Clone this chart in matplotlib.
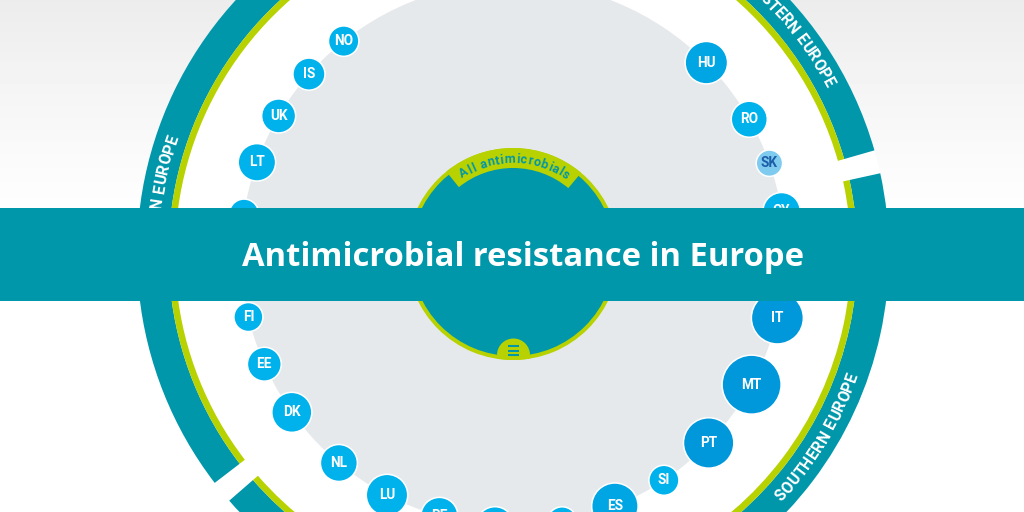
import numpy as np
import matplotlib.pyplot as plt
from matplotlib.patches import Rectangle, Circle
from matplotlib.font_manager import FontProperties, findfont
from matplotlib.ft2font import FT2Font

# ---- data ----
countries = ["SK", "RO", "HU",
             "NO", "IS", "UK", "LT", "LV", "SE", "FI", "EE", "DK",
             "NL", "LU", "BE", "FR",
             "HR", "ES", "SI", "PT", "MT", "IT", "EL", "CY"]
# position of each country around the ring (degrees, counter-clockwise from east)
angles = [19.5, 29.7, 44.7,
          128.5, 138.6, 149.5, 160.3, 171.5, 182.5, 193.4, 203.9, 215.6,
          230.2, 242.4, 254.3, 266.2,
          280.4, 292.0, 303.7, 316.0, 331.3, 346.4, 357.8, 369.05]
values = [7.7, 14.8, 20.8,
          10.4, 11.6, 13.1, 16.0, 9.7, 11.1, 9.4, 13.0, 18.4,
          15.6, 19.8, 15.6, 16.0,
          9.7, 25.0, 10.1, 29.6, 41.0, 31.6, 36.0, 16.0]

regions = ["EASTERN EUROPE", "NORTHERN EUROPE", "WESTERN EUROPE", "SOUTHERN EUROPE"]
region_span = [(16.0, 88.0), (91.5, 217.5), (221.0, 270.0), (273.5, 372.4)]
region_label_at = [38.5, 172.5, 250.0, 329.0]

title = "Antimicrobial resistance in Europe"
centre_label = "All antimicrobials"

# ---- style ----
W, H, DPI = 1024, 512, 100
CX, CY = 513, 254
RMAX = 400
TEAL = "#0097AA"
LIME = "#B7D200"
GRAY = "#E6E9EC"
R_BUBBLE = 272
BANNER = (208, 301)


def bubble_radius(v):
    return 4.5 * np.sqrt(v)


def bubble_color(v):
    if v < 8:
        return "#7FCBF0"
    if v < 20:
        return "#00B2EC"
    if v < 28:
        return "#00A5E4"
    return "#0098DB"


def arc_text(ax, text, theta_c, r_mid, fp, color, outward=True, track=0.0):
    font = FT2Font(findfont(fp))
    font.set_size(fp.get_size_in_points(), DPI)
    advs = [font.load_char(ord(c)).linearHoriAdvance / 65536 + track for c in text]
    total = sum(advs) - track
    span = total / r_mid
    th_c = np.deg2rad(theta_c)
    cap = 0.71 * fp.get_size_in_points() * DPI / 72
    if outward:
        start, dirn, rot, r_base = th_c + span / 2, -1, -90, r_mid - cap / 2
    else:
        start, dirn, rot, r_base = th_c - span / 2, 1, 90, r_mid + cap / 2
    pos = 0
    for c, a in zip(text, advs):
        th = start + dirn * (pos + (a - track) / 2) / r_mid
        if c != " ":
            ax.text(th, r_base, c, rotation=np.rad2deg(th) + rot, rotation_mode="anchor",
                    ha="center", va="baseline", fontproperties=fp, color=color, zorder=8)
        pos += a


fig = plt.figure(figsize=(W / DPI, H / DPI), dpi=DPI)

# background with a soft grey fade at the top
bg = fig.add_axes([0, 0, 1, 1], zorder=0)
bg.set_xlim(0, W)
bg.set_ylim(H, 0)
bg.axis("off")
yy = np.linspace(0, H, H)[:, None]
shade = 1 - 0.075 * np.clip(1 - yy / 240, 0, 1) ** 1.3
bg.imshow(np.repeat(shade, 4, axis=1), cmap="gray", vmin=0, vmax=1,
          extent=[0, W, H, 0], aspect="auto")

# polar chart, 1 unit of r = 1 pixel
ax = fig.add_axes([(CX - RMAX) / W, (H - CY - RMAX) / H, 2 * RMAX / W, 2 * RMAX / H],
                  projection="polar", zorder=1)
ax.set_theta_zero_location("E")
ax.set_ylim(0, RMAX)
ax.axis("off")

full = 2 * np.pi
ax.bar(0, 376, width=full, bottom=0, color="white", lw=0, zorder=1)
ax.bar(0, R_BUBBLE, width=full, bottom=0, color=GRAY, lw=0, zorder=2)

for (a0, a1) in region_span:
    mid = np.deg2rad((a0 + a1) / 2)
    wid = np.deg2rad(a1 - a0)
    ax.bar(mid, 31.5, width=wid, bottom=344.5, color=TEAL, lw=0, zorder=3)
    ax.bar(mid, 6.5, width=wid, bottom=338, color=LIME, lw=0, zorder=3)

fp_reg = FontProperties(family="Roboto", weight="bold", size=11.3)
for name, at in zip(regions, region_label_at):
    upper = np.sin(np.deg2rad(at)) >= 0
    arc_text(ax, name, at, 360, fp_reg, "white", outward=upper, track=0.2)

# central disc
ax.bar(0, 106, width=full, bottom=0, color=LIME, lw=0, zorder=4)
ax.bar(0, 102, width=full, bottom=0, color=TEAL, lw=0, zorder=4)
ax.bar(np.deg2rad(89.5), 20, width=np.deg2rad(79), bottom=86, color=LIME, lw=0, zorder=5)
fp_c = FontProperties(family="Roboto", weight="bold", size=9)
arc_text(ax, centre_label, 89.0, 95.5, fp_c, TEAL, outward=True, track=1.0)

# country bubbles
th = np.deg2rad(angles)
rad = np.array([bubble_radius(v) for v in values])
sizes = (2 * (rad + 0.7) * 72 / DPI) ** 2
cols = [bubble_color(v) for v in values]
ax.scatter(th, np.full(len(th), R_BUBBLE), s=sizes, c=cols, edgecolors="white",
           linewidths=1.1, zorder=6)
fp_b = FontProperties(family="Roboto", weight="bold", size=9.8)
for t, name, v in zip(th, countries, values):
    y_px = CY - R_BUBBLE * np.sin(t)
    if BANNER[0] + 5 < y_px < BANNER[1] - 5:
        continue  # label fully under the banner
    ax.text(t, R_BUBBLE, name, ha="center", va="center", fontproperties=fp_b,
            color="#1C5EA8" if v < 8 else "white", zorder=7)

# overlay: menu bump, banner and title
ov = fig.add_axes([0, 0, 1, 1], zorder=2)
ov.set_xlim(0, W)
ov.set_ylim(H, 0)
ov.axis("off")
ov.patch.set_alpha(0)
clip = Circle((CX, CY), 106, transform=ov.transData)
bump = Circle((CX + 0.5, 355), 16.5, color=LIME, lw=0)
ov.add_patch(bump)
bump.set_clip_path(clip)
for yl in [346.2, 350.5, 354.8]:
    ov.plot([507.8, 519.2], [yl, yl], color=TEAL, lw=1.5, solid_capstyle="butt")

ov.add_patch(Rectangle((0, BANNER[0]), W, BANNER[1] - BANNER[0], color=TEAL, lw=0))
ov.text(523, 266, title, ha="center", va="baseline", color="white",
        fontsize=23.6, fontfamily="Open Sans", fontweight="bold")

fig.savefig("out.png", dpi=DPI)
